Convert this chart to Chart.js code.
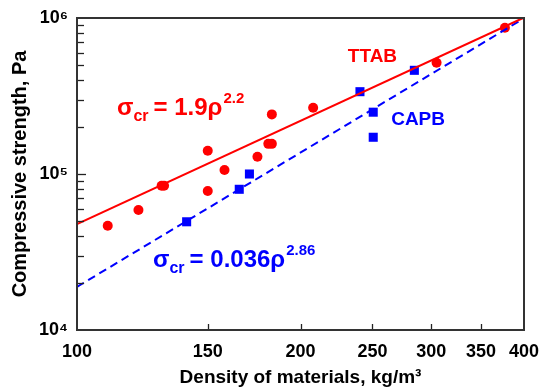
<!DOCTYPE html>
<html>
<head>
<meta charset="utf-8">
<script src="https://cdn.jsdelivr.net/npm/chart.js@4"></script>
<style>
  html, body { margin: 0; padding: 0; background: #fff; }
  #wrap { width: 540px; height: 390px; }
</style>
</head>
<body>
<div id="wrap"><canvas id="chart" width="540" height="390"></canvas></div>
<script>
const ttabDensity = [110, 121, 130, 131, 150, 150, 158, 175, 181, 183, 183, 208, 305, 377];
const ttabStrength = [46600, 58800, 84000, 84000, 141000, 77800, 106000, 129000, 156000, 156000, 241000, 266000, 517000, 867000];

const capbDensity = [140.5, 165.4, 170.7, 240.5, 250.6, 250.6, 284.7];
const capbStrength = [49400, 79800, 100000, 337000, 249000, 172000, 462000];

// fit lines at both ends of the axis
const fitDensity = [100, 400];
const ttabFit = [47700, 1007000];
const capbFit = [18900, 996000];

const xTicks = [100, 150, 200, 250, 300, 350, 400];
const yDecades = [10000, 100000, 1000000];
const supDigits = { 4: "\u2074", 5: "\u2075", 6: "\u2076" };

const FONT = "'Liberation Sans', Arial, sans-serif";

function pts(xs, ys) {
  return xs.map((x, i) => ({ x: x, y: ys[i] }));
}

const overlay = {
  id: "overlay",
  afterDraw(chart) {
    const ctx = chart.ctx;
    const a = chart.chartArea;
    const xs = chart.scales.x;
    const ys = chart.scales.y;
    ctx.save();

    // inward ticks
    ctx.strokeStyle = "#222";
    ctx.lineWidth = 1.3;
    xTicks.slice(1, -1).forEach(v => {
      const px = Math.round(xs.getPixelForValue(v)) + 0.5;
      ctx.beginPath();
      ctx.moveTo(px, a.bottom);
      ctx.lineTo(px, a.bottom - 6);
      ctx.stroke();
    });
    for (let e = 4; e < 6; e++) {
      for (let m = 1; m <= 9; m++) {
        if (e === 4 && m === 1) continue;
        const py = Math.round(ys.getPixelForValue(m * Math.pow(10, e))) + 0.5;
        ctx.beginPath();
        ctx.moveTo(a.left, py);
        ctx.lineTo(a.left + (m === 1 ? 9 : 7), py);
        ctx.stroke();
      }
    }

    // frame
    ctx.strokeStyle = "#333";
    ctx.lineWidth = 2;
    ctx.strokeRect(a.left, a.top, a.right - a.left, a.bottom - a.top);

    // labels
    ctx.textBaseline = "alphabetic";
    ctx.textAlign = "center";
    ctx.font = "bold 19px " + FONT;
    ctx.fillStyle = "#ff0000";
    ctx.fillText("TTAB", xs.getPixelForValue(250), ys.getPixelForValue(580000) + 7);
    ctx.fillStyle = "#0000ff";
    ctx.fillText("CAPB", xs.getPixelForValue(288), ys.getPixelForValue(228600) + 7);

    function eq(x, y, coef, pow, color) {
      ctx.fillStyle = color;
      ctx.textAlign = "left";
      let cx = x;
      ctx.font = "bold 24px " + FONT;
      ctx.fillText("\u03c3", cx, y);
      cx += ctx.measureText("\u03c3").width;
      ctx.font = "bold 16px " + FONT;
      ctx.fillText("cr", cx, y + 6);
      cx += ctx.measureText("cr").width + 5;
      ctx.font = "bold 24px " + FONT;
      const main = "= " + coef + "\u03c1";
      ctx.fillText(main, cx, y);
      cx += ctx.measureText(main).width + 1;
      ctx.font = "bold 15px " + FONT;
      ctx.fillText(pow, cx, y - 12);
    }
    eq(xs.getPixelForValue(113.2), ys.getPixelForValue(239000), "1.9", "2.2", "#ff0000");
    eq(xs.getPixelForValue(126.6), ys.getPixelForValue(25400), "0.036", "2.86", "#0000ff");

    ctx.restore();
  }
};

new Chart(document.getElementById("chart"), {
  type: "scatter",
  data: {
    datasets: [
      {
        label: "TTAB fit",
        type: "line",
        data: pts(fitDensity, ttabFit),
        borderColor: "#ff0000",
        borderWidth: 2,
        pointRadius: 0,
        fill: false
      },
      {
        label: "CAPB fit",
        type: "line",
        data: pts(fitDensity, capbFit),
        borderColor: "#0000ff",
        borderWidth: 2,
        borderDash: [8, 5],
        pointRadius: 0,
        fill: false
      },
      {
        label: "TTAB",
        data: pts(ttabDensity, ttabStrength),
        pointStyle: "circle",
        pointRadius: 5,
        backgroundColor: "#ff0000",
        borderColor: "#ff0000",
        borderWidth: 0
      },
      {
        label: "CAPB",
        data: pts(capbDensity, capbStrength),
        pointStyle: "rect",
        pointRadius: 6.4,
        backgroundColor: "#0000ff",
        borderColor: "#0000ff",
        borderWidth: 0
      }
    ]
  },
  options: {
    responsive: false,
    animation: false,
    layout: { padding: { left: 0, top: 18, right: 16, bottom: 0 } },
    scales: {
      x: {
        type: "logarithmic",
        min: 100,
        max: 400,
        afterBuildTicks: s => { s.ticks = xTicks.map(v => ({ value: v })); },
        afterFit: s => { s.height = 60; s.paddingLeft = 0; s.paddingRight = 0; },
        grid: { display: false, drawTicks: false },
        border: { display: false },
        ticks: {
          autoSkip: false,
          maxRotation: 0,
          padding: 11,
          color: "#000",
          font: { family: FONT, size: 18, weight: "bold" },
          callback: v => String(v)
        },
        title: {
          display: true,
          text: "Density of materials, kg/m\u00b3",
          color: "#000",
          font: { family: FONT, size: 19, weight: "bold" },
          padding: { top: 0, bottom: 1 }
        }
      },
      y: {
        type: "logarithmic",
        min: 10000,
        max: 1000000,
        afterBuildTicks: s => { s.ticks = yDecades.map(v => ({ value: v })); },
        afterFit: s => { s.width = 77; s.paddingTop = 0; s.paddingBottom = 0; },
        grid: { display: false, drawTicks: false },
        border: { display: false },
        ticks: {
          autoSkip: false,
          padding: 9,
          color: "#000",
          font: { family: FONT, size: 18, weight: "bold" },
          callback: v => "10" + supDigits[Math.round(Math.log10(v))]
        },
        title: {
          display: true,
          text: "Compressive strength, Pa",
          color: "#000",
          font: { family: FONT, size: 20, weight: "bold" },
          padding: { top: 8, bottom: 0 }
        }
      }
    },
    plugins: {
      legend: { display: false },
      tooltip: { enabled: false }
    }
  },
  plugins: [overlay]
});
</script>
</body>
</html>
